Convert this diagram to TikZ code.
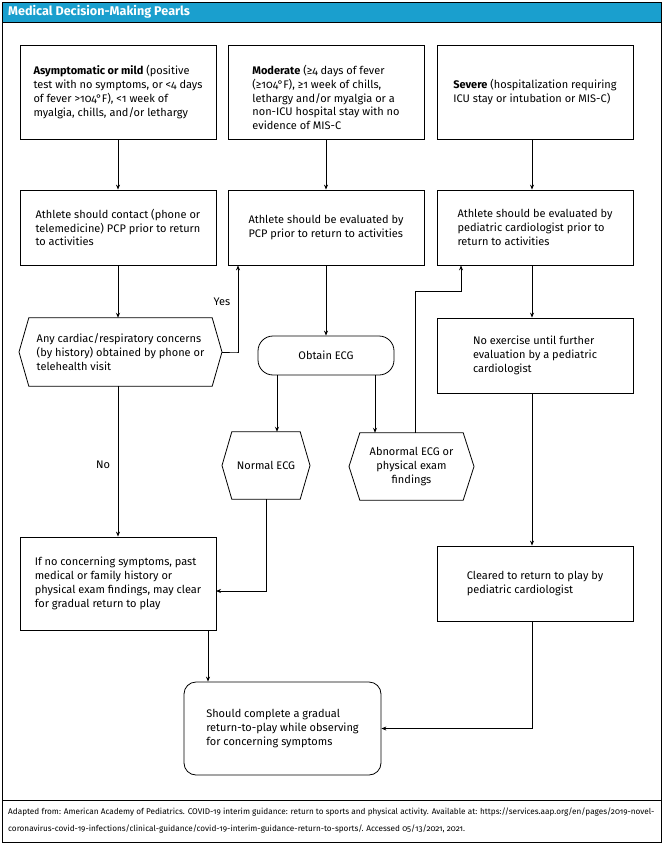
\documentclass[tikz,border=0pt]{standalone}
\usepackage{fontspec}
\setmainfont{Fira Sans}[Numbers=OldStyle]
\usetikzlibrary{arrows.meta,calc}
\definecolor{hdr}{HTML}{1A9FCE}
\newcommand\fsz{\fontsize{11}{13.8}\selectfont}
\begin{document}
\begin{tikzpicture}[x=1pt,y=-1pt,
  box/.style={draw, line width=0.8pt, align=left, inner sep=0pt, font=\fsz},
  hexbox/.style={draw=none, inner sep=0pt, font=\fsz},
  hexline/.style={line width=0.8pt},
  arr/.style={line width=0.8pt, -{Stealth[length=5pt,width=4pt]}},
  lbl/.style={font=\fsz, inner sep=0pt}]
\useasboundingbox (0,0) rectangle (664,845);
% frame and header
\fill[white] (0,0) rectangle (664,845);
\fill[hdr] (2,2) rectangle (661,22);
\draw[line width=0.8pt] (2,2) rectangle (661,842);
\draw[line width=0.8pt] (2,22) -- (661,22);
\draw[line width=0.8pt] (2,800) -- (661,800);
\node[anchor=west, text=white, font=\bfseries\fontsize{12.6}{14}\selectfont, inner sep=0pt] (title) at (8,12) {Medical Decision-Making Pearls};
% row 1
\node[box, minimum width=196pt, minimum height=94pt] (a1) at (118,92) {\textbf{Asymptomatic or mild} (positive\\test with no symptoms, or <4 days\\of fever >104°F), <1 week of\\myalgia, chills, and/or lethargy};
\node[box, minimum width=196pt, minimum height=94pt] (b1) at (326,92) {};
\node[lbl, align=left] (b1t) at (326,97.5) {\textbf{Moderate} (≥4 days of fever\\(≥104°F), ≥1 week of chills,\\lethargy and/or myalgia or a\\non-ICU hospital stay with no\\evidence of MIS-C};
\node[box, minimum width=196pt, minimum height=94pt] (c1) at (535,92) {\textbf{Severe} (hospitalization requiring\\ICU stay or intubation or MIS-C)};
% row 2
\node[box, minimum width=196pt, minimum height=75pt] (a2) at (118,227.5) {Athlete should contact (phone or\\telemedicine) PCP prior to return\\to activities};
\node[box, minimum width=196pt, minimum height=75pt] (b2) at (326,227.5) {Athlete should be evaluated by\\PCP prior to return to activities};
\node[box, minimum width=196pt, minimum height=75pt] (c2) at (535,227.5) {Athlete should be evaluated by\\pediatric cardiologist prior to\\return to activities};
% hexagon a3
\node[hexbox, align=left, minimum width=183pt, minimum height=68pt] (a3) at (120.5,352) {Any cardiac/respiratory concerns\\(by history) obtained by phone or\\telehealth visit};
\coordinate (a3l) at (19,352);
\coordinate (a3r) at (222,352);
\draw[hexline] (a3.north west) -- (a3.north east) -- (a3r) -- (a3.south east) -- (a3.south west) -- (a3l) -- cycle;
% obtain ECG
\node[box, align=center, rounded corners=15pt, minimum width=136pt, minimum height=39pt] (ecg) at (326,355.5) {Obtain ECG};
% c3
\node[box, minimum width=196pt, minimum height=75pt] (c3) at (535,355.5) {No exercise until further\\evaluation by a pediatric\\cardiologist};
% normal ECG hexagon
\node[hexbox, align=center, minimum width=68pt, minimum height=67pt] (nor) at (266,465.5) {Normal ECG};
\coordinate (norl) at (222,465.5);
\coordinate (norr) at (310,465.5);
\draw[hexline] (nor.north west) -- (nor.north east) -- (norr) -- (nor.south east) -- (nor.south west) -- (norl) -- cycle;
% abnormal hexagon
\node[hexbox, align=center, minimum width=103pt, minimum height=67pt] (abn) at (411.5,466.5) {Abnormal ECG or\\physical exam\\findings};
\coordinate (abnl) at (349,466.5);
\coordinate (abnr) at (474,466.5);
\draw[hexline] (abn.north west) -- (abn.north east) -- (abnr) -- (abn.south east) -- (abn.south west) -- (abnl) -- cycle;
% a4, c4
\node[box, minimum width=196pt, minimum height=93pt] (a4) at (118,583.5) {If no concerning symptoms, past\\medical or family history or\\physical exam findings, may clear\\for gradual return to play};
\node[box, minimum width=196pt, minimum height=75pt] (c4) at (535,583.5) {Cleared to return to play by\\pediatric cardiologist};
% final
\node[box, rounded corners=12pt, minimum width=197pt, minimum height=93pt] (fin) at (282.5,728.5) {Should complete a gradual\\return-to-play while observing\\for concerning symptoms};
% helper coordinates
\coordinate (ecgL) at ([xshift=-49pt]ecg.south);
\coordinate (ecgR) at ([xshift=49pt]ecg.south);
\coordinate (b2in) at ([xshift=-88pt]b2.south);
\coordinate (c2in) at ([xshift=-74pt]c2.south);
\coordinate (abnout) at ([xshift=3.5pt]abn.north);
\coordinate (a4out) at ([xshift=90pt]a4.south);
\coordinate (a4in) at (216,591);
\coordinate (c1out) at ([xshift=-3pt]c1.south);
\coordinate (c2out) at ([xshift=-3pt]c2.south);
\coordinate (c3out) at ([xshift=-3pt]c3.south);
\coordinate (c4out) at ([xshift=-3pt]c4.south);
% connectors
\draw[arr] (a1.south) -- (a2.north);
\draw[arr] (b1.south) -- (b2.north);
\draw[arr] (c1out) -- (c2.north -| c1out);
\draw[arr] (a2.south) -- (a3.north -| a2.south);
\draw[arr] (a3r) -- ++(15,0) -| (b2in);
\node[lbl] (yes) at (222,302) {Yes};
\draw[arr] (b2.south) -- (ecg.north);
\draw[arr] (ecgL) -- (nor.north -| ecgL);
\draw[arr] (ecgR) -- (abn.north -| ecgR);
\draw[arr] (abnout) -- ++(0,-141) -| (c2in);
\draw[arr] (c2out) -- (c3.north -| c2out);
\draw[arr] (c3out) -- (c4.north -| c3out);
\draw[arr] (a3.south -| a4.north) -- (a4.north);
\node[lbl] (no) at (103,465) {No};
\draw[arr] (nor.south) |- (a4in);
\draw[arr] (a4out) -- (fin.north -| a4out);
\draw[arr] (c4out) |- (fin.east);
% footer
\node[anchor=west, align=left, inner sep=0pt, font=\fontsize{8.2}{17}\selectfont] (foot) at (8,820.5) {Adapted from: American Academy of Pediatrics. COVID-19 interim guidance: return to sports and physical activity. Available at: https://services.aap.org/en/pages/2019-novel-\\coronavirus-covid-19-infections/clinical-guidance/covid-19-interim-guidance-return-to-sports/. Accessed 05/13/2021, 2021.};
\end{tikzpicture}
\end{document}
